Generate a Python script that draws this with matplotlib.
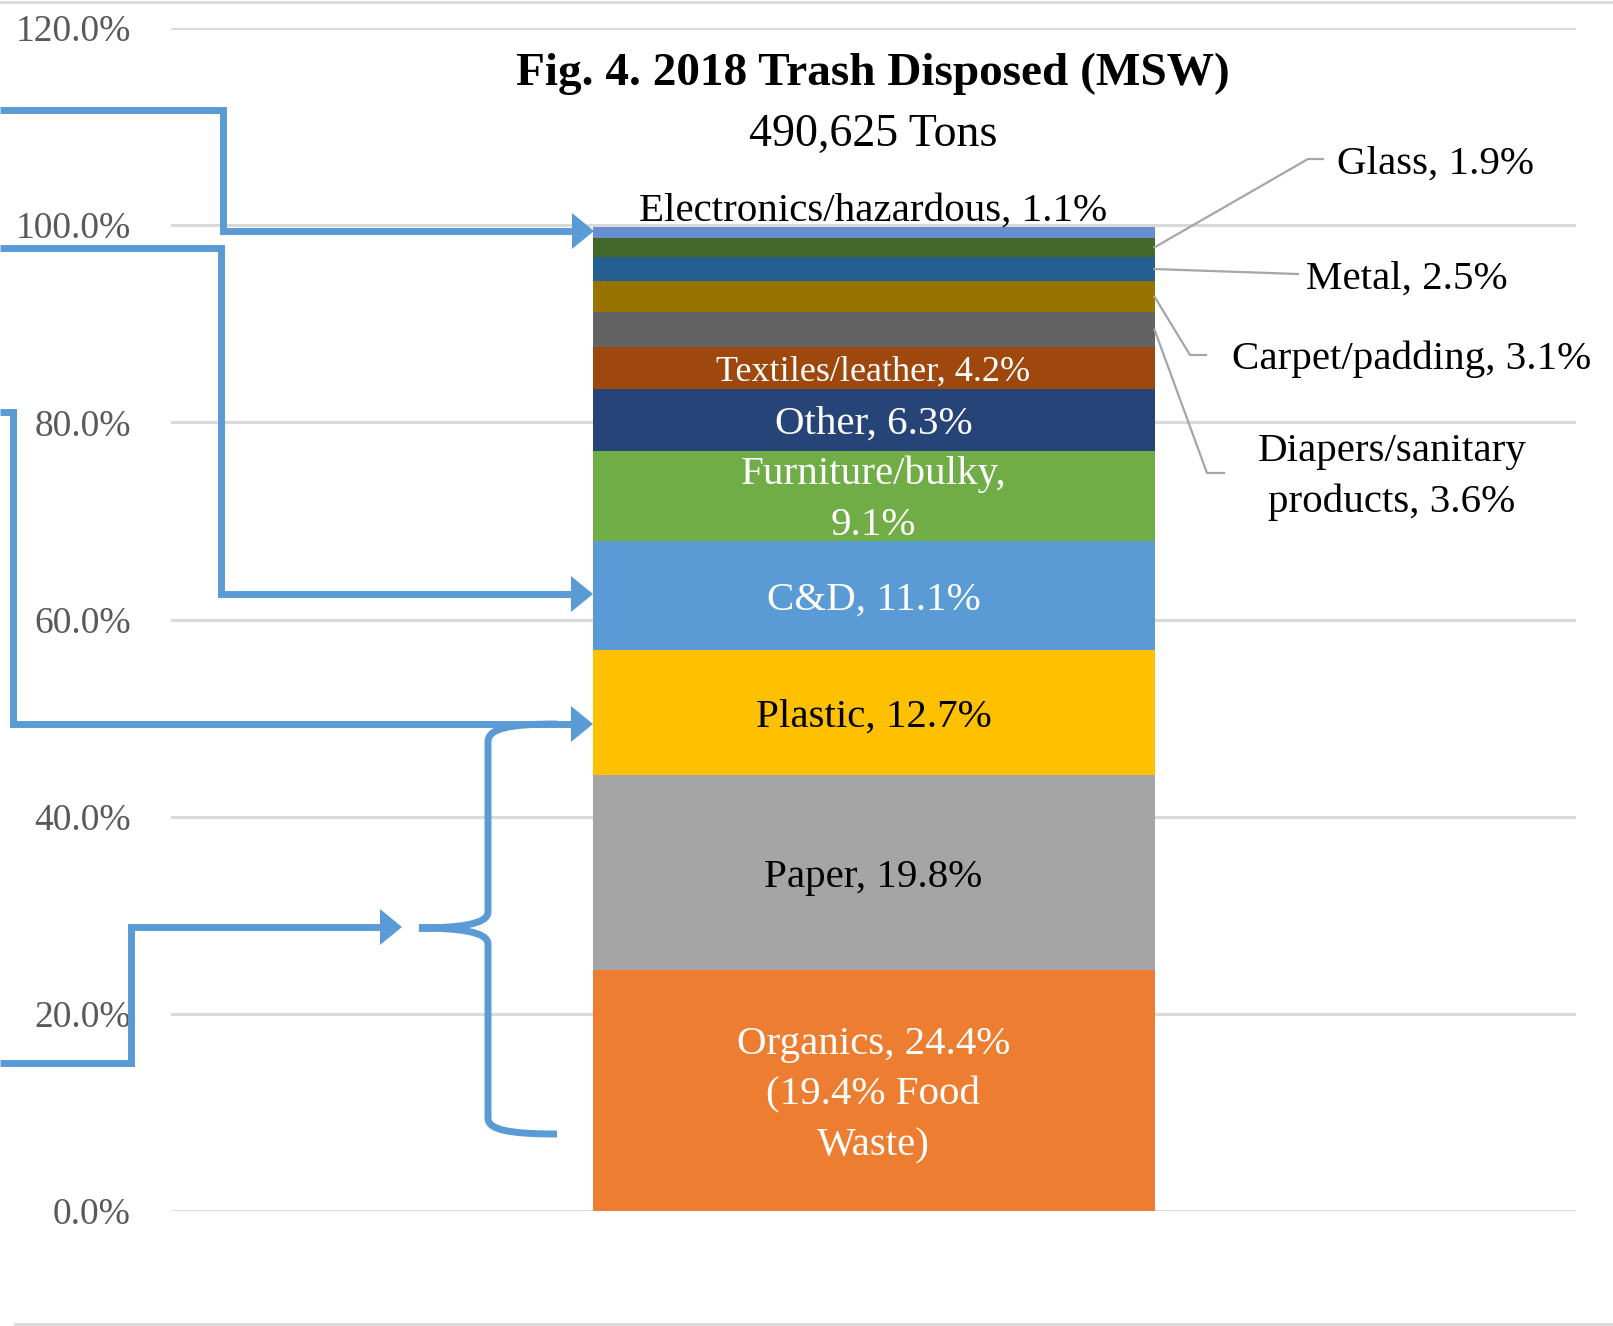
import numpy as np
import matplotlib.pyplot as plt
from matplotlib.path import Path
from matplotlib.patches import PathPatch, Polygon

plt.rcParams['font.family'] = ['Liberation Serif', 'DejaVu Serif']

# data (bottom to top of the stacked bar)
categories = ['Organics', 'Paper', 'Plastic', 'C&D', 'Furniture/bulky', 'Other',
              'Textiles/leather', 'Diapers/sanitary products', 'Carpet/padding',
              'Metal', 'Glass', 'Electronics/hazardous']
shares = [24.4, 19.8, 12.7, 11.1, 9.1, 6.3, 4.2, 3.6, 3.1, 2.5, 1.9, 1.1]
colors = ['#ED7D31', '#A5A5A5', '#FFC000', '#5B9BD5', '#70AD47', '#264478',
          '#9E480E', '#636363', '#997300', '#255E91', '#43682B', '#698ED0']
yticks = [0, 20, 40, 60, 80, 100, 120]

title = 'Fig. 4. 2018 Trash Disposed (MSW)'
subtitle = '490,625 Tons'
food_waste_note = '(19.4% Food\nWaste)'

W, H = 1613, 1326
fig = plt.figure(figsize=(W / 100, H / 100), dpi=100)
ax = fig.add_axes([171 / W, 1 - 1211 / H, 1405 / W, (1211 - 28) / H])

bottoms = np.concatenate([[0], np.cumsum(shares)[:-1]])
ax.bar(0.5, shares, bottom=bottoms, width=0.4, color=colors, zorder=2)

ax.set_xlim(0, 1)
ax.set_ylim(0, 120)
ax.set_yticks(yticks)
ax.set_yticklabels([f'{t:.1f}%' for t in yticks])
ax.tick_params(axis='y', length=0, pad=29, labelsize=27, labelcolor='#595959')
ax.set_xticks([])
ax.grid(axis='y', color='#D9D9D9', lw=2.2, zorder=0)
for s in ax.spines.values():
    s.set_visible(False)

# labels inside the bar
inside = {'Organics': f'Organics, {shares[0]}%\n' + food_waste_note,
          'Furniture/bulky': f'Furniture/bulky,\n{shares[4]}%'}
white = {'Organics', 'C&D', 'Furniture/bulky', 'Other', 'Textiles/leather'}
for c, v, b in zip(categories[:7], shares[:7], bottoms[:7]):
    txt = inside.get(c, f'{c}, {v}%')
    fs = 26 if c == 'Textiles/leather' else 29.5
    ax.text(0.5, b + v / 2 - 0.45, txt, ha='center', va='center', fontsize=fs,
            color='white' if c in white else 'black', linespacing=1.5, zorder=3)

# electronics label on top
ax.text(0.5, bottoms[-1] + shares[-1] + 1.6, f'{categories[-1]}, {shares[-1]}%',
        ha='center', va='center', fontsize=29.5, color='black')

# overlay in pixel coordinates for annotations
ov = fig.add_axes([0, 0, 1, 1], zorder=5)
ov.set_xlim(0, W)
ov.set_ylim(H, 0)
ov.axis('off')
ov.patch.set_alpha(0)

ov.plot([0, W], [1.5, 1.5], color='#D9D9D9', lw=2)
ov.plot([15, W], [1324, 1324], color='#D9D9D9', lw=2)

ov.text(873, 74, title, ha='center', va='center', fontsize=34, fontweight='bold')
ov.text(873, 135, subtitle, ha='center', va='center', fontsize=33)


def to_px(x, y):
    xd, yd = ax.transData.transform((x, y))
    return xd, H - yd


# leader-line labels on the right
right = {
    'Glass': ([(1308, 159), (1323, 159)], (1337, 164), 'left', None),
    'Metal': ([(1298, 274)], (1306, 279), 'left', None),
    'Carpet/padding': ([(1190, 355), (1206, 355)], (1232, 359), 'left', None),
    'Diapers/sanitary products': ([(1207, 473), (1224, 473)], (1392, 477), 'center',
                                  'Diapers/sanitary\nproducts, {v}%'),
}
for c, v, b in zip(categories, shares, bottoms):
    if c not in right:
        continue
    pts, tpos, ha, fmt = right[c]
    x0, y0 = to_px(0.7, b + v / 2)
    xs = [x0] + [p[0] for p in pts]
    ys = [y0] + [p[1] for p in pts]
    ov.plot(xs, ys, color='#A6A6A6', lw=1.6)
    txt = fmt.format(v=v) if fmt else f'{c}, {v}%'
    ov.text(tpos[0], tpos[1], txt, ha=ha, va='center', fontsize=29.5,
            linespacing=1.5)

BLUE = '#5B9BD5'


def blue_arrow(pts, head_len=22, head_w=18):
    tx, ty = pts[-1]
    xs = [p[0] for p in pts[:-1]] + [tx - head_len + 2]
    ys = [p[1] for p in pts[:-1]] + [ty]
    ov.plot(xs, ys, color=BLUE, lw=5, solid_joinstyle='miter', solid_capstyle='butt')
    ov.add_patch(Polygon([(tx - head_len, ty - head_w), (tx, ty),
                          (tx - head_len, ty + head_w)], closed=True,
                         color=BLUE, lw=0))


blue_arrow([(0, 110), (223, 110), (223, 231), (594, 231)])
blue_arrow([(0, 248), (221, 248), (221, 594), (593, 594)])
blue_arrow([(0, 412), (13, 412), (13, 724), (593, 724)])
blue_arrow([(0, 1063), (131, 1063), (131, 927), (402, 927)])

# curly brace
verts = [(557, 724), (510, 724), (488, 728), (488, 742),
         (488, 912),
         (488, 924), (460, 928), (419, 928),
         (460, 928), (488, 932), (488, 944),
         (488, 1118),
         (488, 1130), (510, 1134), (557, 1134)]
codes = [Path.MOVETO, Path.CURVE4, Path.CURVE4, Path.CURVE4,
         Path.LINETO,
         Path.CURVE4, Path.CURVE4, Path.CURVE4,
         Path.CURVE4, Path.CURVE4, Path.CURVE4,
         Path.LINETO,
         Path.CURVE4, Path.CURVE4, Path.CURVE4]
ov.add_patch(PathPatch(Path(verts, codes), fill=False, edgecolor=BLUE, lw=5,
                       capstyle='butt'))

fig.savefig('out.png', dpi=100)
